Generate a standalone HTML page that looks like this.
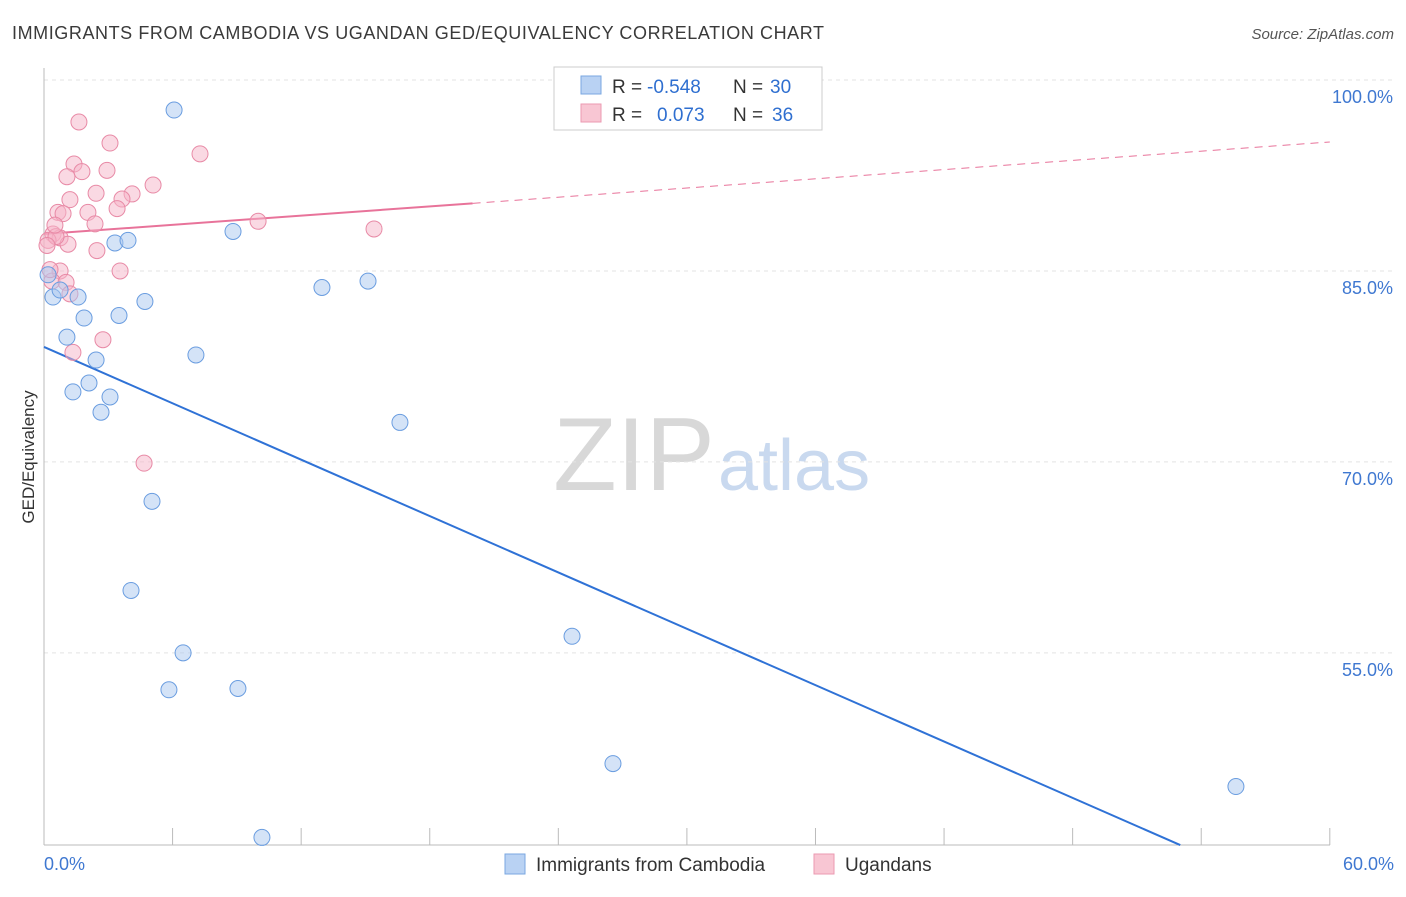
<!DOCTYPE html>
<html><head><meta charset="utf-8">
<style>
body{margin:0;background:#fff;font-family:"Liberation Sans",sans-serif;}
svg text{font-family:"Liberation Sans",sans-serif;}
</style></head>
<body>
<svg id="chart" width="1406" height="892" xmlns="http://www.w3.org/2000/svg">
<text x="12" y="39" font-size="18" fill="#3a3a3a" textLength="812" lengthAdjust="spacing">IMMIGRANTS FROM CAMBODIA VS UGANDAN GED/EQUIVALENCY CORRELATION CHART</text>
<text x="1394" y="39" font-size="15" fill="#555" text-anchor="end" font-style="italic">Source: ZipAtlas.com</text>
<g>
<text x="634" y="490" font-size="104" fill="#d8d8d8" text-anchor="middle" font-family="Liberation Serif,serif">ZIP</text>
<text x="718" y="490" font-size="72" fill="#c9d9ef">atlas</text>
</g>
<g id="grid"></g>
<g id="axes"></g>
<g id="lines"></g>
<g id="points"></g>
<text transform="translate(34,457) rotate(-90)" font-size="17" fill="#333" text-anchor="middle">GED/Equivalency</text>
<g>
<rect x="554" y="67" width="268" height="63" fill="#fff" stroke="#ccc"/>
<rect x="581" y="76" width="20" height="18" fill="#b9d2f3" stroke="#7aa7e0"/>
<rect x="581" y="104" width="20" height="18" fill="#f8c6d3" stroke="#eb9ab2"/>
<text x="612" y="93" font-size="19" fill="#333">R =</text>
<text x="647" y="93" font-size="19" fill="#2f6fd0">-0.548</text>
<text x="733" y="93" font-size="19" fill="#333">N =</text>
<text x="770" y="93" font-size="19" fill="#2f6fd0">30</text>
<text x="612" y="121" font-size="19" fill="#333">R =</text>
<text x="657" y="121" font-size="19" fill="#2f6fd0">0.073</text>
<text x="733" y="121" font-size="19" fill="#333">N =</text>
<text x="772" y="121" font-size="19" fill="#2f6fd0">36</text>
</g>
<g>
<rect x="505" y="854" width="20" height="20" fill="#b9d2f3" stroke="#7aa7e0"/>
<text x="536" y="871" font-size="19" fill="#333">Immigrants from Cambodia</text>
<rect x="814" y="854" width="20" height="20" fill="#f8c6d3" stroke="#eb9ab2"/>
<text x="845" y="871" font-size="19" fill="#333">Ugandans</text>
</g>
</svg>
<script>
const yTicks=[100,85,70,55];
const yTickLabels=["100.0%","85.0%","70.0%","55.0%"];
const xTickLabels=["0.0%","60.0%"];
const blueX=[6.07,0.42,1.59,1.87,1.07,2.43,1.35,2.1,2.66,3.08,3.5,4.71,3.31,3.92,7.09,8.82,12.97,15.12,16.61,5.04,4.06,6.49,5.83,9.05,10.17,24.64,26.55,55.62,0.19,0.75];
const blueY=[97.64,82.95,82.95,81.3,79.8,78.0,75.5,76.2,73.9,75.1,81.5,82.6,87.2,87.4,78.4,88.1,83.7,84.2,73.1,66.9,59.9,55.0,52.1,52.2,40.5,56.3,46.3,44.5,84.7,83.5];
const pinkX=[1.63,3.08,1.4,7.28,1.77,2.94,1.07,5.09,2.43,4.11,1.21,3.64,0.65,3.41,2.05,0.89,9.99,2.38,15.4,0.42,0.75,0.19,1.12,2.47,3.55,0.75,0.37,1.03,1.21,2.75,1.35,4.67,0.28,0.56,0.14,0.51];
const pinkY=[96.7,95.05,93.4,94.2,92.8,92.9,92.4,91.75,91.1,91.05,90.6,90.65,89.6,89.9,89.6,89.5,88.9,88.7,88.3,87.9,87.6,87.4,87.1,86.6,85.0,85.0,84.2,84.1,83.2,79.6,78.6,69.9,85.1,87.7,87.0,88.6];
const blueTrend=[79.03,-0.738];
const pinkTrend=[87.9,0.1205];
const sx=v=>44+v*21.43, sy=v=>80+(100-v)*12.73;
const NS="http://www.w3.org/2000/svg";
function mk(parent,tag,attrs){const e=document.createElementNS(NS,tag);for(const k in attrs)e.setAttribute(k,attrs[k]);document.getElementById(parent).appendChild(e);return e;}
yTicks.forEach((t,i)=>{
 const g=mk('grid','line',{x1:44,x2:1394,y1:sy(t),y2:sy(t),stroke:'#e3e3e3','stroke-dasharray':'4,4'});
 
 
 const l=mk('axes','text',{x:1393,y:sy(t)+23,'font-size':18,fill:'#3f78d1','text-anchor':'end'});l.textContent=yTickLabels[i];
 
 
});
const ax=mk('axes','line',{x1:44,x2:44,y1:68,y2:845,stroke:'#bbb'});


const bx=mk('axes','line',{x1:44,x2:1330,y1:845,y2:845,stroke:'#bbb'});


for(let i=0;i<=10;i++){const t=mk('axes','line',{x1:sx(i*6),x2:sx(i*6),y1:828,y2:845,stroke:'#bbb'});
 
 }
[[0,'start',44],[60,'end',1394]].forEach((d,i)=>{const t=mk('axes','text',{x:d[2],y:870,'font-size':18,fill:'#3f78d1','text-anchor':d[1]});t.textContent=xTickLabels[i];
 
 });
function pts(xs,ys,fill,stroke,name){xs.forEach((x,i)=>{const c=mk('points','circle',{cx:sx(x),cy:sy(ys[i]),r:8,fill:fill,'fill-opacity':0.5,stroke:stroke,'stroke-width':1});
 
 });}
pts(pinkX,pinkY,'#f6b4c7','#e88aa6','ugandans-point');
pts(blueX,blueY,'#a9c8f0','#6a9de0','cambodia-point');
const bxEnd=(39.9-blueTrend[0])/blueTrend[1];
const bl=mk('lines','line',{x1:sx(0),y1:sy(blueTrend[0]),x2:sx(bxEnd),y2:sy(39.9),stroke:'#2f72d6','stroke-width':2});


const pl=mk('lines','line',{x1:sx(0),y1:sy(pinkTrend[0]),x2:sx(20),y2:sy(pinkTrend[0]+20*pinkTrend[1]),stroke:'#e8739a','stroke-width':2});


const pd=mk('lines','line',{x1:sx(20),y1:sy(pinkTrend[0]+20*pinkTrend[1]),x2:sx(60),y2:sy(pinkTrend[0]+60*pinkTrend[1]),stroke:'#e8739a','stroke-width':1,'stroke-dasharray':'8,6'});


</script>
</body></html>
